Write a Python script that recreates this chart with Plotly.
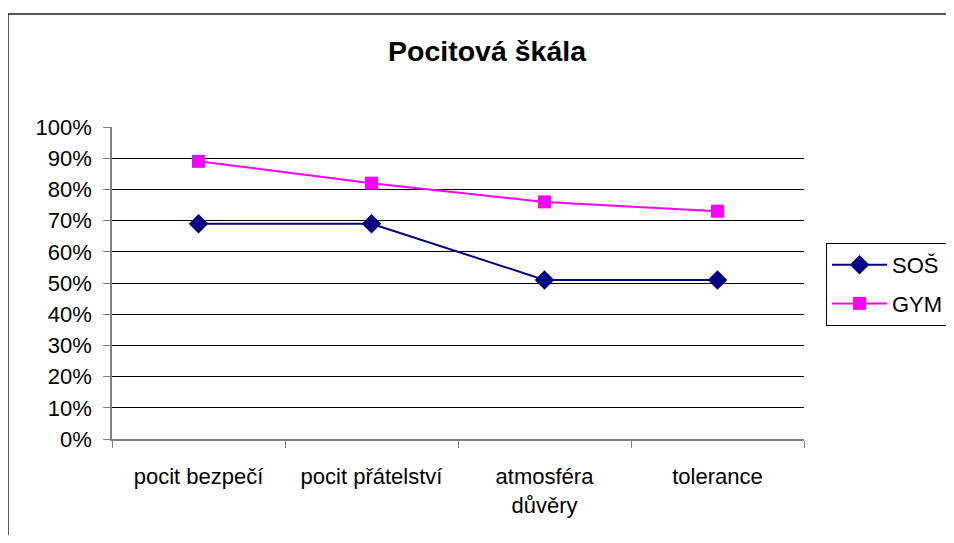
import plotly.graph_objects as go

categories = ["pocit bezpečí", "pocit přátelství", "atmosféra<br>důvěry", "tolerance"]
sos_values = [0.69, 0.69, 0.51, 0.51]
gym_values = [0.89, 0.82, 0.76, 0.73]
y_ticks = [i / 10 for i in range(11)]
y_tick_labels = [f"{i*10}%" for i in range(11)]

# page body has an 8px margin on every side; keep the figure inside the window
OFF = 8
W, H = 954 - 2 * OFF, 543 - 2 * OFF
L, R, T, B = 112 - OFF, 804 - OFF, 127 - OFF, 439 - OFF

fig = go.Figure()
fig.add_trace(go.Scatter(
    x=categories, y=sos_values, name="SOŠ", mode="lines+markers", legendgroup="a",
    line=dict(color="#000080", width=2),
    marker=dict(symbol="diamond", size=15, color="#000080"),
))
fig.add_trace(go.Scatter(
    x=categories, y=gym_values, name="GYM", mode="lines+markers", legendgroup="b",
    line=dict(color="#FF00FF", width=2),
    marker=dict(symbol="square", size=13, color="#FF00FF"),
))

pw, ph = R - L, B - T
fig.add_shape(type="rect", xref="paper", yref="paper",
              x0=(0 - L) / pw, x1=(W + 20 - L) / pw,
              y0=(B - (H + 20)) / ph, y1=(B - 6) / ph,
              line=dict(color="#222222", width=1.5), fillcolor="rgba(0,0,0,0)", layer="below")

fig.update_layout(
    width=W, height=H,
    margin=dict(l=L, r=W - R, t=T, b=H - B, pad=0, autoexpand=False),
    paper_bgcolor="white", plot_bgcolor="white",
    font=dict(family="Liberation Sans, Arial, sans-serif", size=22, color="black"),
    title=dict(text="<b>Pocitová škála</b>", x=(487 - OFF) / W, xanchor="center",
               y=1 - (51 - OFF) / H, yanchor="middle", font=dict(size=28.5)),
    showlegend=True,
    legend=dict(x=(826 - OFF - L) / pw, y=(B - (243 - OFF)) / ph, xanchor="left", yanchor="top",
                bordercolor="black", borderwidth=1, bgcolor="white",
                font=dict(size=22), itemwidth=55, tracegroupgap=7),
    xaxis=dict(type="category", showgrid=False, showline=True, linecolor="#808080", linewidth=1.5,
               ticks="outside", tickson="boundaries", ticklen=7, tickcolor="#808080",
               range=[-0.5, 3.5], tickfont=dict(size=22), ticklabelstandoff=17,
               automargin=False, fixedrange=True),
    yaxis=dict(range=[0, 1], tickvals=y_ticks, ticktext=y_tick_labels,
               showgrid=True, gridcolor="black", gridwidth=1,
               showline=True, linecolor="#808080", linewidth=1.5,
               ticks="outside", ticklen=7, tickcolor="#808080", ticklabelstandoff=7,
               zeroline=False, tickfont=dict(size=22), automargin=False),
)

fig.write_html("out.html")
